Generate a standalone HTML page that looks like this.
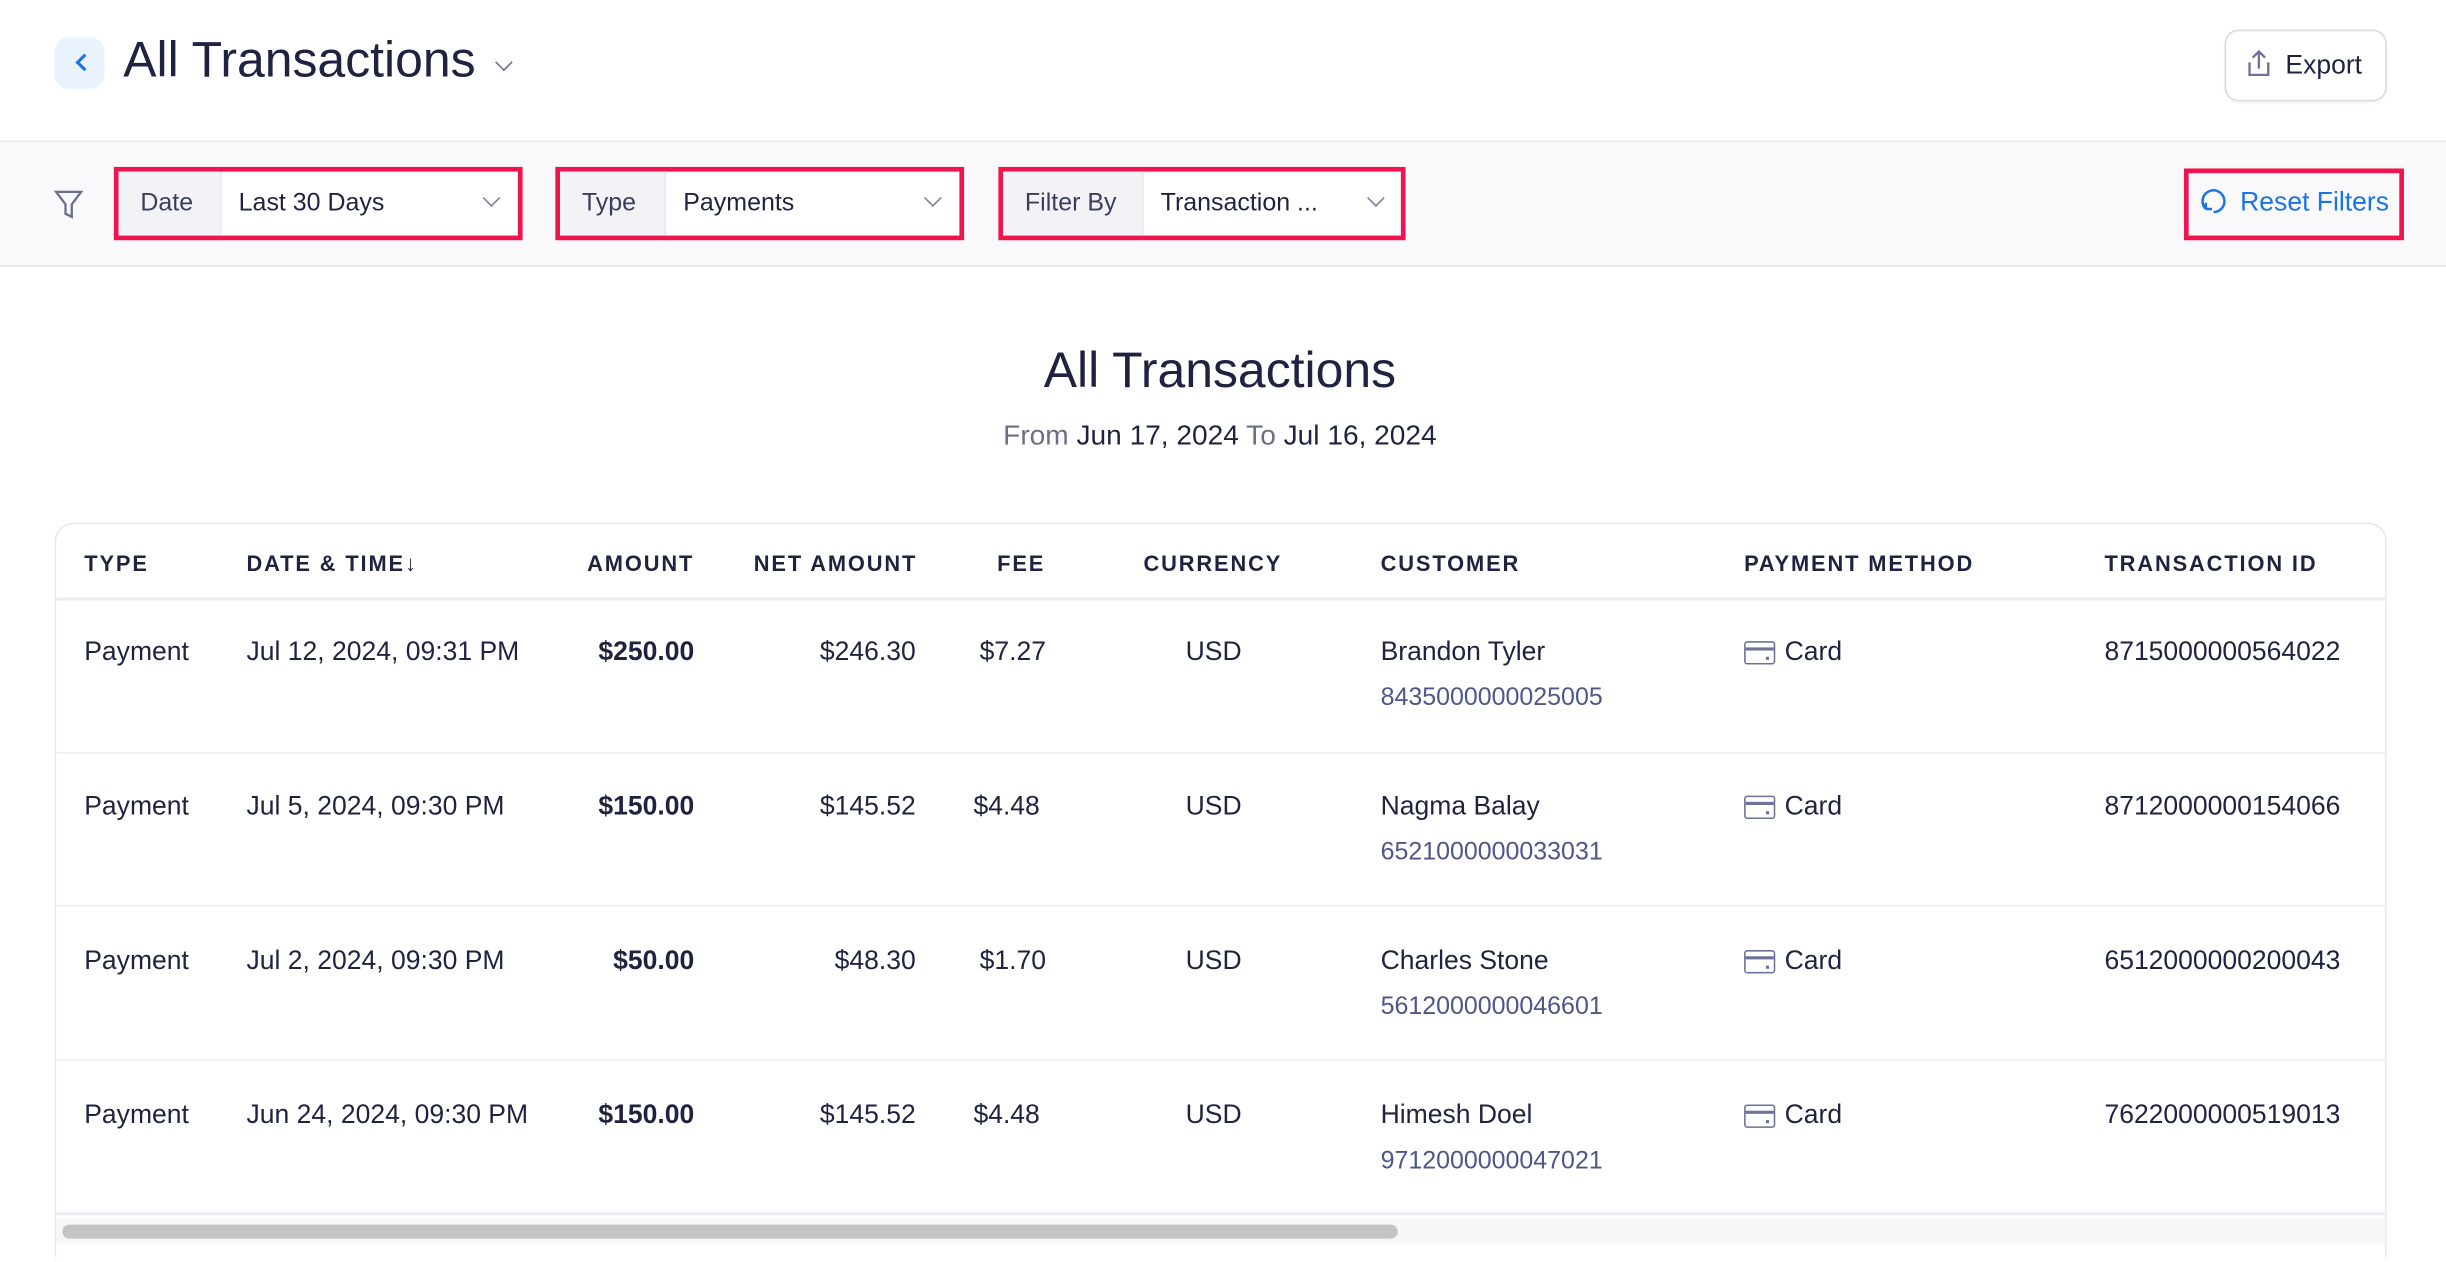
<!DOCTYPE html>
<html><head><meta charset="utf-8"><style>
html,body{margin:0;padding:0;background:#fff;overflow:hidden}
body{width:2446px;height:1262px}
#w{position:absolute;left:0;top:0;width:1568px;height:809px;transform:scale(1.56);transform-origin:0 0;font-family:"Liberation Sans",sans-serif;color:#1f2340}
.a{position:absolute;white-space:nowrap}
.hdr{position:absolute;left:0;top:0;width:1568px;height:90px;border-bottom:1px solid #e3e5ec}
.fb{position:absolute;left:0;top:91px;width:1568px;height:79px;background:#f9f9fc;border-bottom:1px solid #e3e5ec}
.sel{position:absolute;top:107px;height:41px;border:3px solid #f0134d;background:#fff;font-size:16px}
.sel .l{position:absolute;left:0;top:0;bottom:0;background:#f3f3f7;border-right:1px solid #e6e7ee;color:#3a3e5c}
.sel span{position:absolute;top:12px}
.chev{position:absolute;top:13px;width:7px;height:7px;border-right:1.5px solid #7c7f99;border-bottom:1.5px solid #7c7f99;transform:rotate(45deg)}
.th{position:absolute;top:353px;font-size:14px;font-weight:bold;letter-spacing:1.2px;color:#1f2340}
.c{position:absolute;font-size:17px;color:#1f2340;white-space:nowrap}
.r{text-align:right}
.sub{color:#4f5688;font-size:16px}
.hl{position:absolute;left:36px;width:1493px;height:1px;background:#eceef3}
.card{position:absolute;width:18px;height:13px;border:1.5px solid #6c7299;border-radius:2px}
.card:before{content:"";position:absolute;left:0;right:0;top:3px;height:1.5px;background:#6c7299}
.card:after{content:"";position:absolute;right:3px;bottom:2px;width:2px;height:2px;background:#6c7299}
</style></head><body><div id="w">
<div class="hdr"></div>
<div class="a" style="left:35px;top:24px;width:32px;height:33px;background:#e8f3fe;border-radius:9px"></div>
<div class="a" style="left:50px;top:36px;width:6px;height:6px;border-left:2px solid #1a73e8;border-bottom:2px solid #1a73e8;transform:rotate(45deg)"></div>
<div class="a" style="left:79px;top:20px;font-size:32px;color:#1f2340">All Transactions</div>
<div class="a" style="left:319px;top:36px;width:7px;height:7px;border-right:1.5px solid #6c7090;border-bottom:1.5px solid #6c7090;transform:rotate(45deg)"></div>
<div class="a" style="left:1426px;top:19px;width:102px;height:44px;border:1px solid #d9dbe3;border-radius:9px;box-shadow:0 1px 2px rgba(0,0,0,.05)"></div>
<svg class="a" style="left:1439px;top:31px" width="18" height="20" viewBox="0 0 18 20"><path d="M9 13V2M5 6l4-4 4 4M3 9v8h12V9" fill="none" stroke="#6c7299" stroke-width="1.5"/></svg>
<div class="a" style="left:1465px;top:32px;font-size:17px">Export</div>

<div class="fb"></div>
<svg class="a" style="left:34px;top:121px" width="20" height="20" viewBox="0 0 20 20"><path d="M2 2h16l-6 8v8l-4-2v-6z" fill="none" stroke="#6c7090" stroke-width="1.5"/></svg>
<div class="sel" style="left:73px;width:256px"><div class="l" style="width:65px"></div><span style="left:14px;color:#3a3e5c">Date</span><span style="left:77px">Last 30 Days</span><div class="chev" style="left:235px"></div></div>
<div class="sel" style="left:356px;width:256px"><div class="l" style="width:67px"></div><span style="left:14px;color:#3a3e5c">Type</span><span style="left:79px">Payments</span><div class="chev" style="left:235px"></div></div>
<div class="sel" style="left:640px;width:255px"><div class="l" style="width:89px"></div><span style="left:14px;color:#3a3e5c">Filter By</span><span style="left:101px">Transaction ...</span><div class="chev" style="left:235px"></div></div>
<div class="a" style="left:1400px;top:108px;width:135px;height:40px;border:3px solid #f0134d"></div>
<svg class="a" style="left:1410px;top:120px" width="18" height="18" viewBox="0 0 18 18"><path d="M4 14A7 7 0 1 1 9 16M4 14v-4M4 14h4" fill="none" stroke="#1a73e8" stroke-width="1.6"/></svg>
<div class="a" style="left:1436px;top:120px;font-size:17px;color:#1a73e8">Reset Filters</div>

<div class="a" style="left:0;width:1564px;top:219px;text-align:center;font-size:32px">All Transactions</div>
<div class="a" style="left:0;width:1564px;top:269px;text-align:center;font-size:18px"><span style="color:#6b6e85">From</span> Jun 17, 2024 <span style="color:#6b6e85">To</span> Jul 16, 2024</div>

<div class="a" style="left:35px;top:335px;width:1493px;height:470px;border:1px solid #e5e7ee;border-bottom:none;border-radius:12px 12px 0 0"></div>
<div class="th" style="left:54px">TYPE</div>
<div class="th" style="left:158px">DATE &amp; TIME↓</div>
<div class="th r" style="left:345px;width:100px">AMOUNT</div>
<div class="th r" style="left:460px;width:128px">NET AMOUNT</div>
<div class="th r" style="left:600px;width:70px">FEE</div>
<div class="th" style="left:733px">CURRENCY</div>
<div class="th" style="left:885px">CUSTOMER</div>
<div class="th" style="left:1118px">PAYMENT METHOD</div>
<div class="th" style="left:1349px">TRANSACTION ID</div>
<div class="hl" style="top:383px;height:2px"></div>
<div class="hl" style="top:482px"></div>
<div class="hl" style="top:580px"></div>
<div class="hl" style="top:679px"></div>
<div class="hl" style="top:777px;height:2px"></div>

<!-- rows -->
<div class="c" style="left:54px;top:408px">Payment</div><div class="c" style="left:158px;top:408px">Jul 12, 2024, 09:31 PM</div><div class="c r" style="left:345px;width:100px;top:408px;font-weight:bold">$250.00</div><div class="c r" style="left:470px;width:117px;top:408px">$246.30</div><div class="c" style="left:628px;top:408px">$7.27</div><div class="c" style="left:760px;top:408px">USD</div><div class="c" style="left:885px;top:408px">Brandon Tyler</div><div class="c sub" style="left:885px;top:439px">8435000000025005</div><div class="card" style="left:1118px;top:411px"></div><div class="c" style="left:1144px;top:408px">Card</div><div class="c" style="left:1349px;top:408px">8715000000564022</div>

<div class="c" style="left:54px;top:507px">Payment</div><div class="c" style="left:158px;top:507px">Jul 5, 2024, 09:30 PM</div><div class="c r" style="left:345px;width:100px;top:507px;font-weight:bold">$150.00</div><div class="c r" style="left:470px;width:117px;top:507px">$145.52</div><div class="c" style="left:624px;top:507px">$4.48</div><div class="c" style="left:760px;top:507px">USD</div><div class="c" style="left:885px;top:507px">Nagma Balay</div><div class="c sub" style="left:885px;top:538px">6521000000033031</div><div class="card" style="left:1118px;top:510px"></div><div class="c" style="left:1144px;top:507px">Card</div><div class="c" style="left:1349px;top:507px">8712000000154066</div>

<div class="c" style="left:54px;top:606px">Payment</div><div class="c" style="left:158px;top:606px">Jul 2, 2024, 09:30 PM</div><div class="c r" style="left:345px;width:100px;top:606px;font-weight:bold">$50.00</div><div class="c r" style="left:470px;width:117px;top:606px">$48.30</div><div class="c" style="left:628px;top:606px">$1.70</div><div class="c" style="left:760px;top:606px">USD</div><div class="c" style="left:885px;top:606px">Charles Stone</div><div class="c sub" style="left:885px;top:637px">5612000000046601</div><div class="card" style="left:1118px;top:609px"></div><div class="c" style="left:1144px;top:606px">Card</div><div class="c" style="left:1349px;top:606px">6512000000200043</div>

<div class="c" style="left:54px;top:705px">Payment</div><div class="c" style="left:158px;top:705px">Jun 24, 2024, 09:30 PM</div><div class="c r" style="left:345px;width:100px;top:705px;font-weight:bold">$150.00</div><div class="c r" style="left:470px;width:117px;top:705px">$145.52</div><div class="c" style="left:624px;top:705px">$4.48</div><div class="c" style="left:760px;top:705px">USD</div><div class="c" style="left:885px;top:705px">Himesh Doel</div><div class="c sub" style="left:885px;top:736px">9712000000047021</div><div class="card" style="left:1118px;top:708px"></div><div class="c" style="left:1144px;top:705px">Card</div><div class="c" style="left:1349px;top:705px">7622000000519013</div>

<div class="a" style="left:36px;top:781px;width:1493px;height:16px;background:#f7f7f9"></div>
<div class="a" style="left:40px;top:785px;width:856px;height:9px;background:#c4c4c7;border-radius:5px"></div>
</div></body></html>
